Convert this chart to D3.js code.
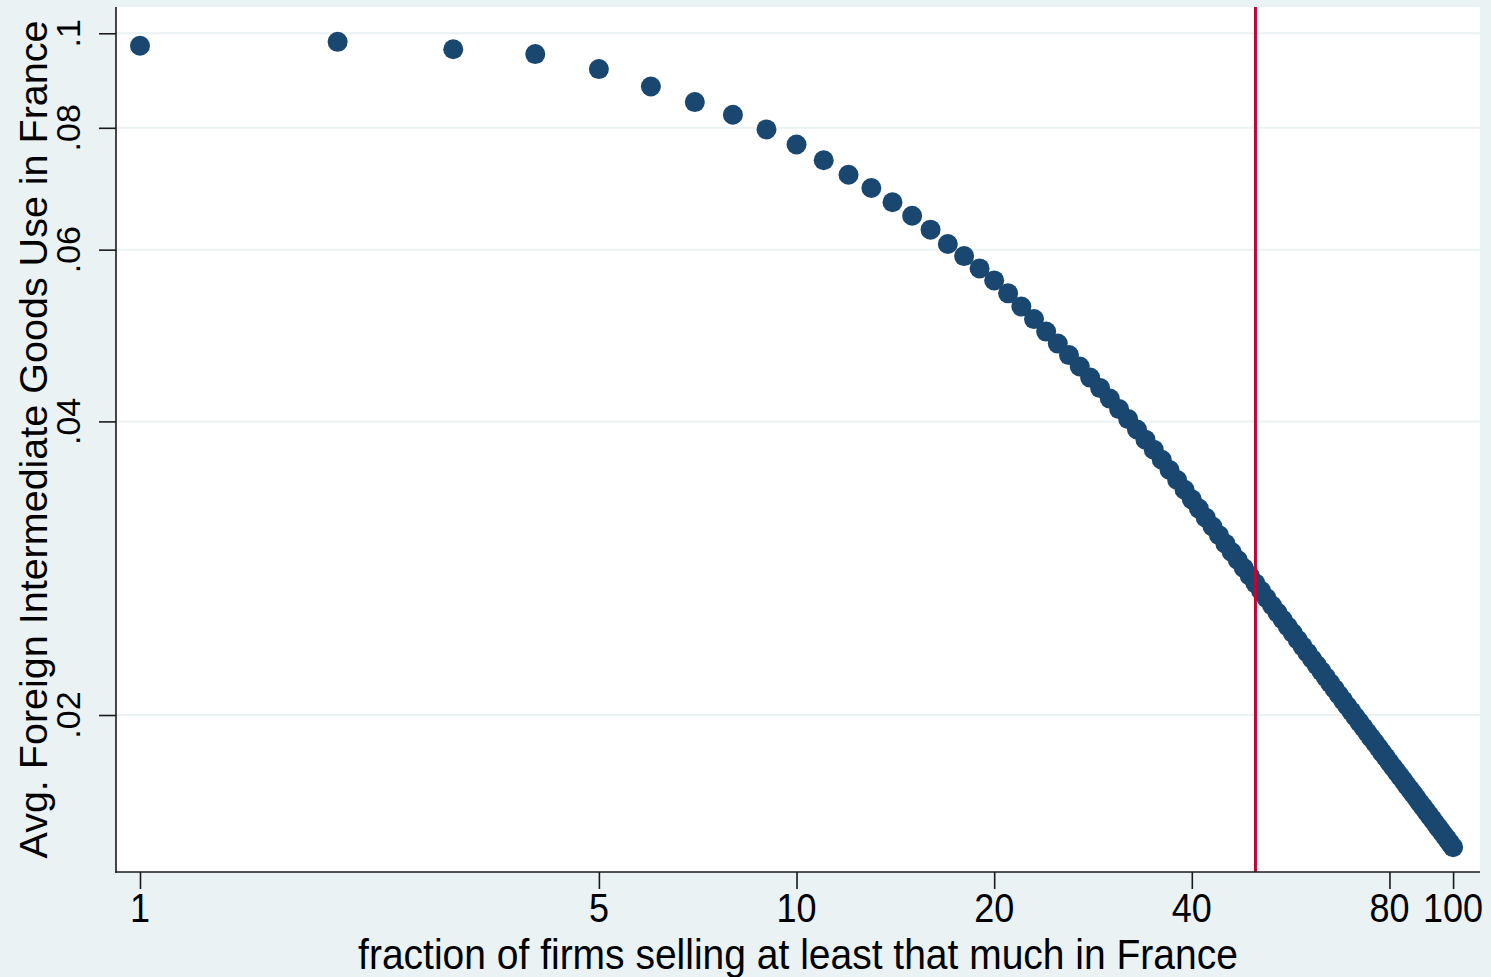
<!DOCTYPE html>
<html>
<head>
<meta charset="utf-8">
<script src="https://cdn.jsdelivr.net/npm/d3@7"></script>
<style>
  html, body { margin: 0; padding: 0; background: #EAF2F3; }
  svg { display: block; }
  text { font-family: "Liberation Sans", Arial, Helvetica, sans-serif; fill: #000; }
</style>
</head>
<body>
<svg id="chart" width="1491" height="977"></svg>
<script>
// Percentile rank of firms (1..100), ordered by sales in France
const firmShare = d3.range(1, 101);

// Average foreign intermediate goods use among firms at or above each rank
const foreignUse = [
  0.0971, 0.0980, 0.0963, 0.0952, 0.0919, 0.0882, 0.0850, 0.0825, 0.0797, 0.0769,
  0.0741, 0.0716, 0.0694, 0.0671, 0.0650, 0.0629, 0.0608, 0.0591, 0.0574, 0.0558,
  0.05412, 0.05246, 0.05093, 0.04945, 0.04807, 0.04678, 0.04553, 0.04436, 0.04327, 0.04221,
  0.04118, 0.04022, 0.03924, 0.03831, 0.03742, 0.03654, 0.03566, 0.03483, 0.03404, 0.03328,
  0.03256, 0.03187, 0.03121, 0.03058, 0.02997, 0.02939, 0.02884, 0.02830, 0.02779, 0.02729,
  0.02682, 0.02635, 0.02590, 0.02547, 0.02506, 0.02465, 0.02427, 0.02389, 0.02352, 0.02317,
  0.02283, 0.02250, 0.02218, 0.02187, 0.02156, 0.02127, 0.02098, 0.02070, 0.02043, 0.02017,
  0.01992, 0.01967, 0.01943, 0.01919, 0.01896, 0.01874, 0.01852, 0.01830, 0.01810, 0.01789,
  0.01769, 0.01750, 0.01731, 0.01713, 0.01694, 0.01677, 0.01660, 0.01643, 0.01626, 0.01610,
  0.01594, 0.01578, 0.01563, 0.01548, 0.01533, 0.01519, 0.01505, 0.01491, 0.01477, 0.01464
];

const xTickValues = [1, 5, 10, 20, 40, 80, 100];
const yTickValues = [0.02, 0.04, 0.06, 0.08, 0.1];
const yTickLabels = [".02", ".04", ".06", ".08", ".1"];
const cutoffShare = [50];

const xTitle = "fraction of firms selling at least that much in France";
const yTitle = "Avg. Foreign Intermediate Goods Use in France";

// Plot region
const plot = { left: 116, right: 1480, top: 7, bottom: 872 };

const x = d3.scaleLog().domain([0.9193, 109.9]).range([plot.left, plot.right]);
const y = d3.scaleLog().domain([0.013806, 0.1064]).range([plot.bottom, plot.top]);

const svg = d3.select("#chart");

// Outer background and white plot region
svg.append("rect").attr("width", 1491).attr("height", 977).attr("fill", "#EAF2F3");
svg.append("rect")
  .attr("x", plot.left).attr("y", plot.top)
  .attr("width", plot.right - plot.left).attr("height", plot.bottom - plot.top)
  .attr("fill", "#FFFFFF");

// Horizontal grid lines
svg.append("g").selectAll("line").data(yTickValues).join("line")
  .attr("x1", plot.left).attr("x2", plot.right)
  .attr("y1", d => y(d)).attr("y2", d => y(d))
  .attr("stroke", "#EAF2F3").attr("stroke-width", 2);

// Scatter points
svg.append("g").selectAll("circle").data(firmShare).join("circle")
  .attr("cx", d => x(d))
  .attr("cy", (d, i) => y(foreignUse[i]))
  .attr("r", 10)
  .attr("fill", "#1A476F");

// Vertical reference line
svg.append("g").selectAll("line").data(cutoffShare).join("line")
  .attr("x1", d => x(d)).attr("x2", d => x(d))
  .attr("y1", plot.top).attr("y2", plot.bottom)
  .attr("stroke", "#C10534").attr("stroke-width", 3);

// Y axis
const yAxis = d3.axisLeft(y).tickValues(yTickValues).tickSize(17).tickFormat("");
const gy = svg.append("g").attr("transform", `translate(${plot.left},0)`).call(yAxis);
gy.select(".domain").remove();
gy.selectAll(".tick line").attr("stroke", "#1a1a1a").attr("stroke-width", 1.6);
svg.append("line")
  .attr("x1", plot.left).attr("x2", plot.left)
  .attr("y1", plot.top).attr("y2", plot.bottom + 0.8)
  .attr("stroke", "#1a1a1a").attr("stroke-width", 1.6);

svg.append("g").selectAll("text").data(yTickValues).join("text")
  .attr("transform", d => `translate(80,${y(d)}) rotate(-90)`)
  .attr("text-anchor", "middle")
  .attr("font-size", 34)
  .text((d, i) => yTickLabels[i]);

// X axis
const xAxis = d3.axisBottom(x).tickValues(xTickValues).tickSize(17).tickFormat("");
const gx = svg.append("g").attr("transform", `translate(0,${plot.bottom})`).call(xAxis);
gx.select(".domain").remove();
gx.selectAll(".tick line").attr("stroke", "#1a1a1a").attr("stroke-width", 1.6);
svg.append("line")
  .attr("x1", plot.left - 0.8).attr("x2", plot.right)
  .attr("y1", plot.bottom).attr("y2", plot.bottom)
  .attr("stroke", "#1a1a1a").attr("stroke-width", 1.6);

svg.append("g").selectAll("text").data(xTickValues).join("text")
  .attr("transform", d => `translate(${x(d)},922) scale(1,1.15)`)
  .attr("text-anchor", "middle")
  .attr("font-size", 36)
  .text(d => d3.format("d")(d));

// Axis titles
svg.append("text")
  .attr("transform", `translate(${(plot.left + plot.right) / 2},969) scale(1,1.1)`)
  .attr("text-anchor", "middle")
  .attr("font-size", 39)
  .text(xTitle);

svg.append("text")
  .attr("transform", `translate(47,${(plot.top + plot.bottom) / 2}) rotate(-90)`)
  .attr("text-anchor", "middle")
  .attr("font-size", 39.5)
  .text(yTitle);
</script>
</body>
</html>
